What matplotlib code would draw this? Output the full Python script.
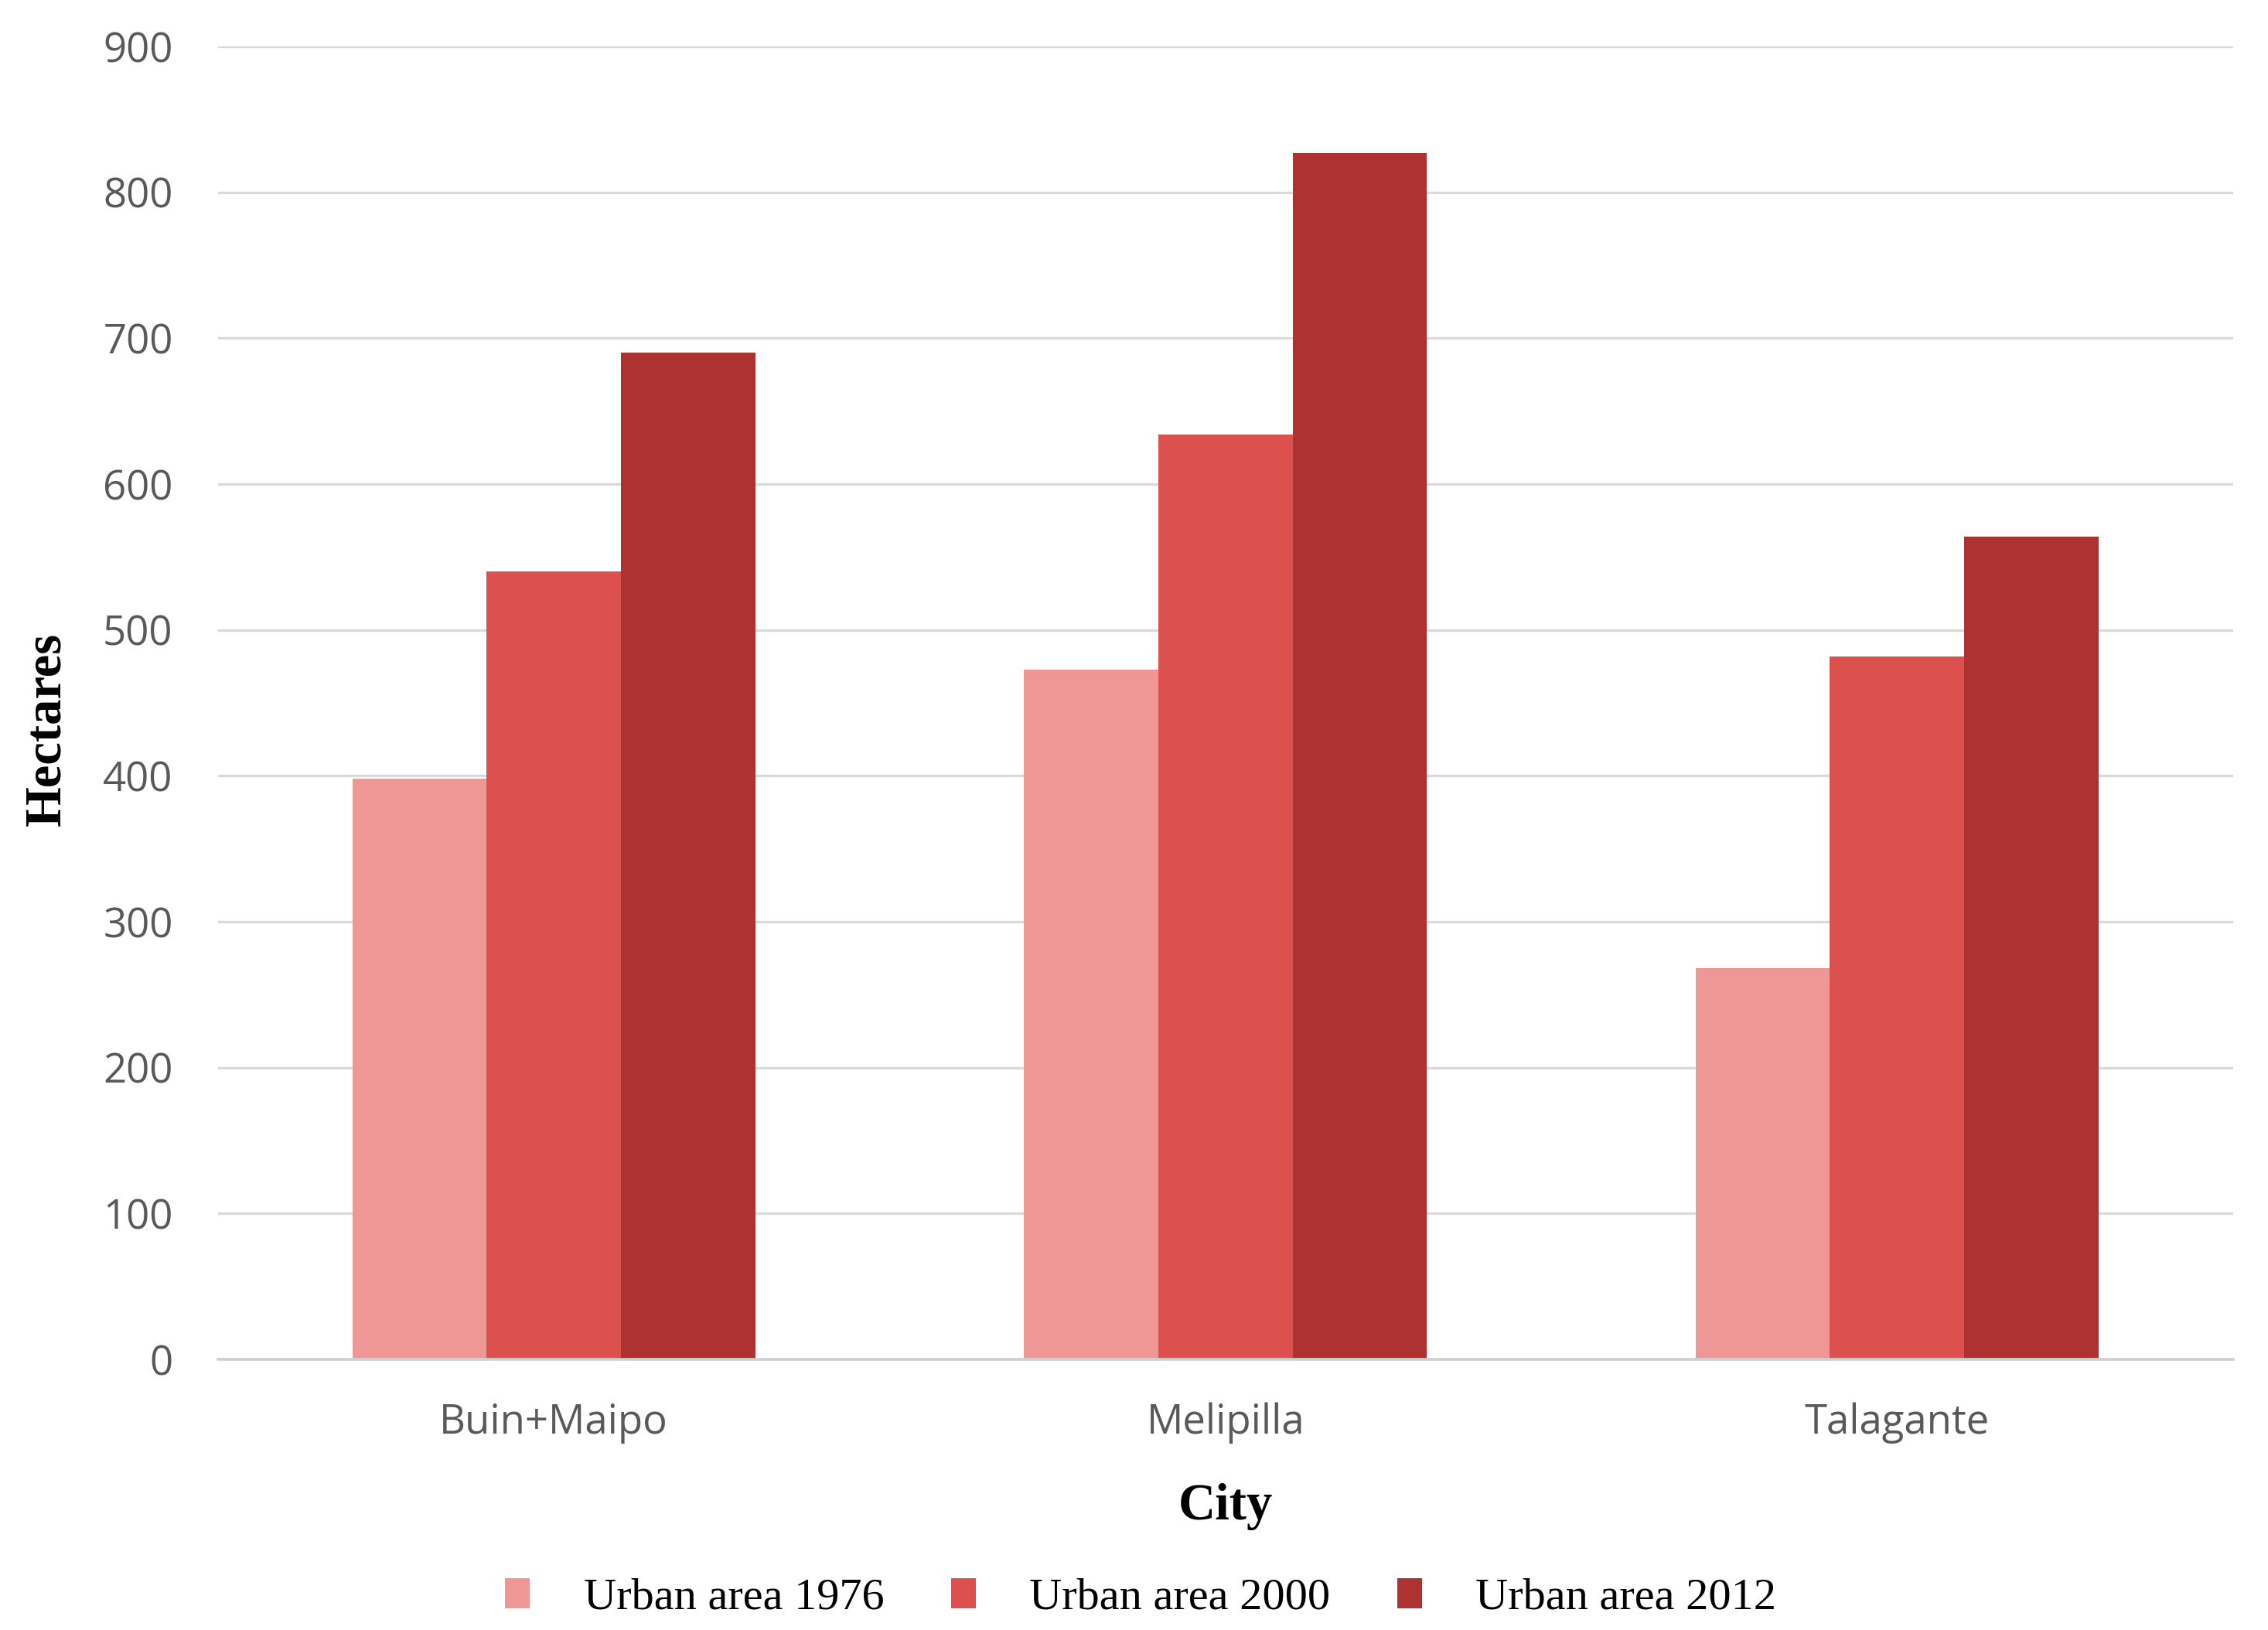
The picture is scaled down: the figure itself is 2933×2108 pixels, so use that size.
import matplotlib
matplotlib.use("Agg")
import matplotlib.pyplot as plt
from matplotlib.patches import Patch
import numpy as np

cities = ["Buin+Maipo", "Melipilla", "Talagante"]
series_names = ["Urban area 1976", "Urban area 2000", "Urban area 2012"]
area_1976 = [398, 473, 268]
area_2000 = [540, 634, 482]
area_2012 = [690, 827, 564]
colors = ["#EE9795", "#DC504E", "#AE3232"]
yticks = [0, 100, 200, 300, 400, 500, 600, 700, 800, 900]

DPI = 200
fig = plt.figure(figsize=(2933 / DPI, 2108 / DPI), dpi=DPI)
ax = fig.add_axes([0.0961, 0.166, 0.8884, 0.8055])

x = np.arange(len(cities))
w = 0.2
for i, (vals, col) in enumerate(zip([area_1976, area_2000, area_2012], colors)):
    ax.bar(x + (i - 1) * w, vals, width=w, color=col, edgecolor="none", zorder=3)

ax.set_xlim(-0.5, len(cities) - 0.5)
ax.set_ylim(0, 900)
ax.set_yticks(yticks)
ax.set_xticks(x)
ax.set_xticklabels(cities)
for s in ["top", "right", "left"]:
    ax.spines[s].set_visible(False)
ax.spines["bottom"].set_color("#D0D0D0")
ax.spines["bottom"].set_linewidth(1.3)
ax.spines["bottom"].set_zorder(4)
ax.grid(axis="y", color="#DADADA", linewidth=1.2, zorder=0)
ax.set_axisbelow(True)
ax.tick_params(axis="both", length=0, labelcolor="#595959", labelsize=19)
ax.tick_params(axis="y", pad=21)
ax.tick_params(axis="x", pad=20)
for lab in ax.get_xticklabels() + ax.get_yticklabels():
    lab.set_fontfamily("Open Sans")

ax.set_ylabel("Hectares", fontfamily="Liberation Serif", fontweight="bold",
              fontsize=24, color="black")
ax.yaxis.set_label_coords(-0.073, 0.48)
ax.set_xlabel("City", fontfamily="Liberation Serif", fontweight="bold",
              fontsize=24, color="black")
ax.xaxis.set_label_coords(0.5, -0.094)

handles = [Patch(facecolor=c, edgecolor="none") for c in colors]
leg = fig.legend(handles, series_names, loc="center", bbox_to_anchor=(0.503, 0.0195),
                 ncol=3, frameon=False, handlelength=0.55, handleheight=0.64,
                 handletextpad=1.19, columnspacing=1.48, borderpad=0.1,
                 prop={"family": "Liberation Serif", "size": 21})

fig.savefig("out.png", dpi=DPI, facecolor="white")
